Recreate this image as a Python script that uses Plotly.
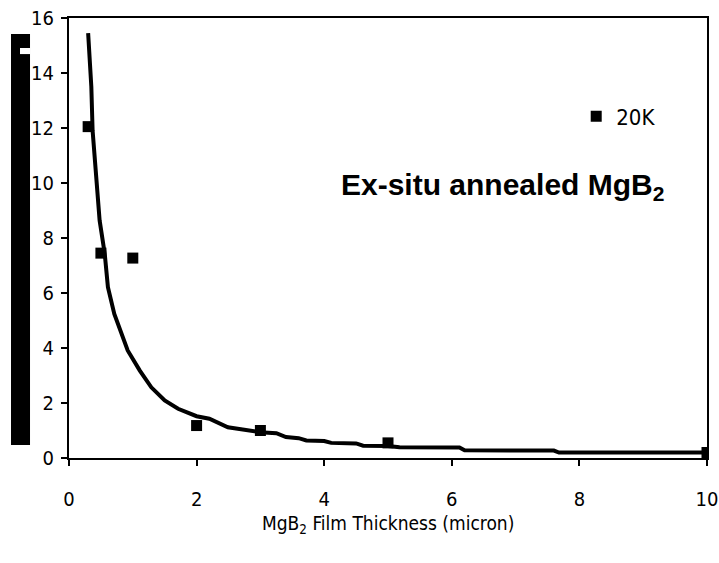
import plotly.graph_objects as go

# Measured critical current points (20 K)
thickness = [0.3, 0.5, 1.0, 2.0, 3.0, 5.0, 10.0]
jc_20k = [12.05, 7.45, 7.27, 1.18, 1.0, 0.55, 0.2]

# Fitted trend line through the measurements
fit_x = [0.30, 0.35, 0.37, 0.43, 0.48, 0.56, 0.61, 0.71, 0.82, 0.92, 1.11, 1.29,
         1.50, 1.71, 2.00, 2.20, 2.49, 2.70, 2.99, 3.25, 3.40, 3.60, 3.72, 4.00,
         4.11, 4.50, 4.61, 5.00, 5.18, 6.12, 6.20, 7.60, 7.68, 10.0]
fit_y = [15.45, 13.5, 11.9, 9.85, 8.64, 7.43, 6.21, 5.24, 4.52, 3.91, 3.18, 2.57,
         2.09, 1.79, 1.52, 1.43, 1.12, 1.05, 0.94, 0.90, 0.76, 0.72, 0.64, 0.62,
         0.55, 0.53, 0.45, 0.44, 0.39, 0.38, 0.28, 0.27, 0.20, 0.20]

x_ticks = [0, 2, 4, 6, 8, 10]
y_ticks = [0, 2, 4, 6, 8, 10, 12, 14, 16]

narrow = "DejaVu Sans Condensed, Liberation Sans Narrow, sans-serif"

fig = go.Figure()
fig.add_trace(go.Scatter(
    x=fit_x, y=fit_y, mode="lines",
    line=dict(color="black", width=4), showlegend=False, hoverinfo="skip",
))
fig.add_trace(go.Scatter(
    x=thickness, y=jc_20k, mode="markers", name="20K",
    marker=dict(symbol="square", size=11, color="black"),
))

axis_common = dict(
    showgrid=False, zeroline=False, showline=True, linecolor="black",
    linewidth=2, mirror=True, ticks="outside", ticklen=6, tickwidth=2,
    tickcolor="black", automargin=False,
    tickfont=dict(family=narrow, size=20, color="black"),
)

fig.update_xaxes(range=[0, 10], tickvals=x_ticks, ticklabelstandoff=16,
                 **axis_common)
fig.update_yaxes(range=[0, 16], tickvals=y_ticks, ticklabelstandoff=3,
                 **axis_common)

fig.add_annotation(
    text="MgB<sub>2</sub> Film Thickness (micron)", xref="paper", yref="paper",
    x=0.5, y=-0.152, xanchor="center", yanchor="middle", showarrow=False,
    font=dict(family=narrow, size=19, color="black"),
)
fig.add_annotation(
    text="<b>Ex-situ annealed MgB<sub>2</sub></b>", xref="paper", yref="paper",
    x=0.68, y=0.618, xanchor="center", yanchor="middle", showarrow=False,
    font=dict(family="Liberation Sans, Arial, sans-serif", size=30, color="black"),
)

# Vertical title band on the left
fig.add_shape(type="rect", xref="paper", yref="paper", layer="below",
              x0=-0.0909, x1=-0.0611, y0=0.0295, y1=0.9636,
              fillcolor="black", line=dict(width=0))
fig.add_shape(type="rect", xref="paper", yref="paper", layer="below",
              x0=-0.0768, x1=-0.0611, y0=0.918, y1=0.9318,
              fillcolor="white", line=dict(width=0))

fig.update_layout(
    width=719, height=563,
    margin=dict(l=69, r=12, t=18, b=105, autoexpand=False),
    paper_bgcolor="white", plot_bgcolor="white",
    legend=dict(x=0.795, y=0.776, xanchor="left", yanchor="middle",
                bgcolor="rgba(0,0,0,0)",
                font=dict(family=narrow, size=22, color="black"),
                itemwidth=30),
)

fig.write_html("out.html")
